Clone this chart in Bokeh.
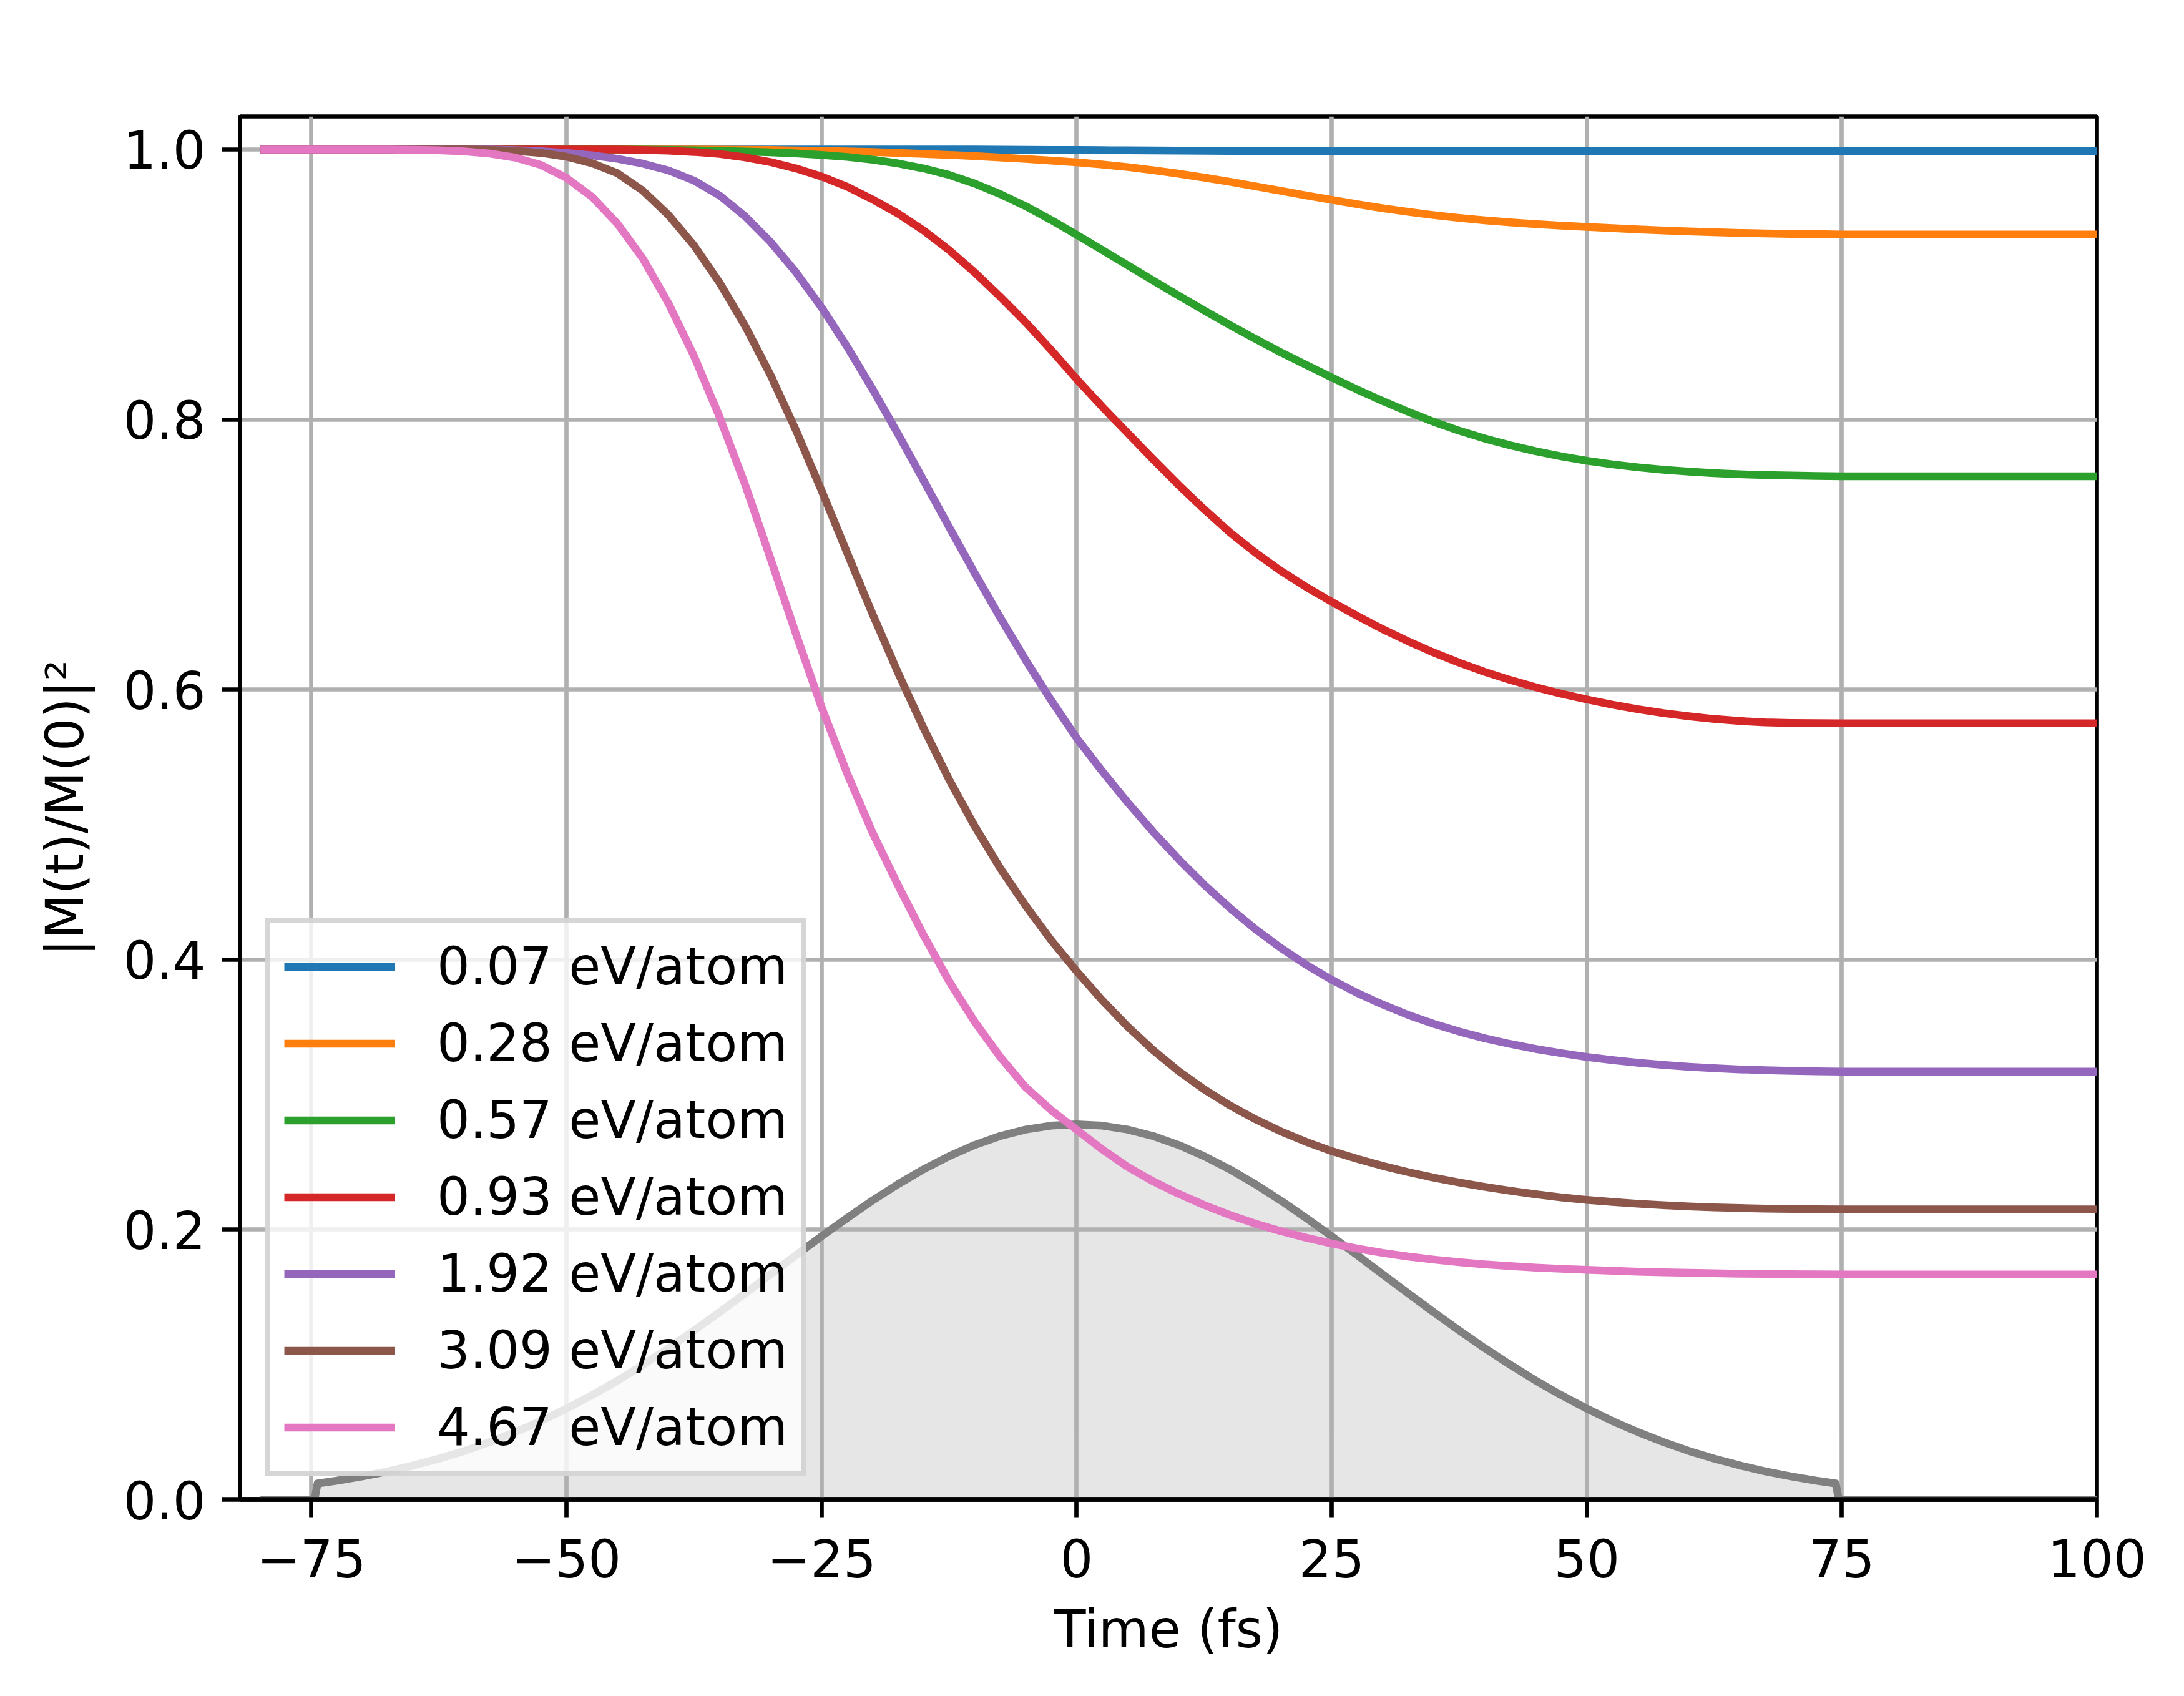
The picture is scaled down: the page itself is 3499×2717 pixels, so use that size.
from bokeh.plotting import figure
from bokeh.models import Range1d, FixedTicker, CustomJSTickFormatter, PrintfTickFormatter
from bokeh.embed import file_html
from bokeh.resources import INLINE

# ---- data ----
time_fs = [-80, -77.5, -75, -72.5, -70, -67.5, -65, -62.5, -60, -57.5, -55, -52.5,
           -50, -47.5, -45, -42.5, -40, -37.5, -35, -32.5, -30, -27.5, -25, -22.5,
           -20, -17.5, -15, -12.5, -10, -7.5, -5, -2.5, 0, 2.5, 5, 7.5, 10, 12.5,
           15, 17.5, 20, 22.5, 25, 27.5, 30, 32.5, 35, 37.5, 40, 42.5, 45, 47.5,
           50, 52.5, 55, 57.5, 60, 62.5, 65, 67.5, 70, 72.5, 75, 77.5, 80, 82.5,
           85, 87.5, 90, 92.5, 95, 97.5, 100]

m_007 = [1.0] * 29 + [0.9999, 0.9998, 0.9997, 0.9996, 0.9995, 0.9994, 0.9993,
                      0.9992, 0.9991] + [0.999] * 35

m_028 = [1.0] * 18 + [0.9999, 0.9998, 0.9996, 0.9993, 0.999, 0.9986, 0.9981, 0.9975,
                      0.9968, 0.996, 0.9951, 0.9941, 0.993, 0.9918, 0.9905,
                      0.9889, 0.987, 0.9847, 0.9821, 0.9792, 0.9761, 0.9728, 0.9694,
                      0.966, 0.9627, 0.9595, 0.9565, 0.9538, 0.9514, 0.9493, 0.9475,
                      0.946, 0.9447, 0.9436, 0.9427, 0.9417, 0.9408, 0.94, 0.9393,
                      0.9387, 0.9382, 0.9378, 0.9375, 0.9373] + [0.937] * 11

m_057 = [1.0] * 15 + [0.9999, 0.9997, 0.9994, 0.999, 0.9985, 0.9979, 0.9971, 0.996,
                      0.9945, 0.9925, 0.9897, 0.986, 0.9812, 0.9748, 0.967, 0.958,
                      0.9478, 0.9368,
                      0.9256, 0.9143, 0.903, 0.8918, 0.8808, 0.8701, 0.8598, 0.8498,
                      0.8404, 0.8312, 0.8222, 0.8137, 0.8057, 0.7983, 0.7917, 0.7859,
                      0.7809, 0.7765, 0.7727, 0.7695, 0.7668, 0.7646, 0.7628, 0.7614,
                      0.7603, 0.7595, 0.7589, 0.7585, 0.7582] + [0.758] * 11

m_093 = [1.0] * 15 + [0.9997, 0.9992, 0.9982, 0.9967, 0.9942, 0.9907, 0.986, 0.980,
                      0.9725, 0.963, 0.9525, 0.940, 0.9255, 0.909, 0.891, 0.872,
                      0.8515, 0.830,
                      0.8095, 0.790, 0.7705, 0.7515, 0.7335, 0.7165, 0.7015, 0.688,
                      0.676, 0.665, 0.6545, 0.6447, 0.6357, 0.6274, 0.6199, 0.6131,
                      0.6071, 0.6017, 0.5969, 0.5927, 0.5888, 0.5855, 0.5826, 0.5802,
                      0.5782, 0.5767, 0.5757, 0.5752, 0.5751] + [0.575] * 11

m_192 = [1.0] * 10 + [0.9995, 0.9987, 0.9975, 0.9957, 0.9931, 0.9895, 0.9845, 0.977,
                      0.966, 0.9505, 0.9315, 0.909, 0.883, 0.854, 0.8225, 0.7892,
                      0.7549, 0.7204, 0.6864, 0.6534, 0.6219, 0.5921, 0.5641,
                      0.5396, 0.5164, 0.4946, 0.4743, 0.4555, 0.4383, 0.4227, 0.4087,
                      0.3962, 0.3851, 0.3753, 0.3667, 0.359, 0.3524, 0.3467, 0.3417,
                      0.3375, 0.3338, 0.3307, 0.3279, 0.3256, 0.3236, 0.322, 0.3206,
                      0.3196, 0.3187, 0.3181, 0.3176, 0.3173] + [0.317] * 11

m_309 = [1.0] * 9 + [0.9997, 0.999, 0.9975, 0.9947, 0.9899, 0.9824, 0.9694, 0.9514,
                     0.9289, 0.9014, 0.8694, 0.8329, 0.7919, 0.7474, 0.7014, 0.6559,
                     0.6124, 0.5714, 0.5334, 0.4989, 0.4679, 0.4399, 0.4144, 0.3914,
                     0.3699, 0.3504, 0.3329, 0.3174, 0.3039, 0.2921, 0.2818, 0.2728,
                     0.265, 0.2582, 0.2524, 0.2472, 0.2426, 0.2385, 0.2349, 0.2317,
                     0.2288, 0.2262, 0.2239, 0.222, 0.2205, 0.2192, 0.2181, 0.2172,
                     0.2165, 0.216, 0.2156, 0.2153, 0.2151] + [0.215] * 11

m_467 = [1.0] * 6 + [0.9998, 0.9994, 0.9986, 0.997, 0.994, 0.9885, 0.979, 0.965,
                     0.945, 0.919, 0.886, 0.847, 0.802, 0.752, 0.697, 0.641,
                     0.587, 0.538, 0.494, 0.455, 0.418, 0.384, 0.354, 0.328,
                     0.3055, 0.2885, 0.274,
                     0.2595, 0.2465, 0.2358, 0.2265, 0.2182, 0.2109, 0.2045, 0.1989,
                     0.194, 0.1897, 0.186, 0.1828, 0.1801, 0.1778, 0.1759, 0.1743,
                     0.173, 0.1719, 0.171, 0.1702, 0.1695, 0.1689, 0.1684, 0.168,
                     0.1677, 0.1674, 0.1672, 0.167, 0.1669] + [0.1668] * 11

series_labels = ["0.07 eV/atom", "0.28 eV/atom", "0.57 eV/atom", "0.93 eV/atom",
                 "1.92 eV/atom", "3.09 eV/atom", "4.67 eV/atom"]
series_values = [m_007, m_028, m_057, m_093, m_192, m_309, m_467]

pulse_t = [-80, -74.7, -74.4, -72.5, -70, -67.5, -65, -62.5, -60, -57.5, -55, -52.5,
           -50, -47.5, -45, -42.5, -40, -37.5, -35, -32.5, -30, -27.5, -25, -22.5,
           -20, -17.5, -15, -12.5, -10, -7.5, -5, -2.5, 0, 2.5, 5, 7.5, 10, 12.5,
           15, 17.5, 20, 22.5, 25, 27.5, 30, 32.5, 35, 37.5, 40, 42.5, 45, 47.5,
           50, 52.5, 55, 57.5, 60, 62.5, 65, 67.5, 70, 72.5, 74.4, 74.7, 100]
pulse_v = [0.0, 0.0, 0.012, 0.0141, 0.0173, 0.0210, 0.0254, 0.0304, 0.0361, 0.0427,
           0.0501, 0.0583, 0.0674, 0.0774, 0.0882, 0.0999, 0.1122, 0.1253, 0.1388,
           0.1528, 0.1669, 0.1811, 0.1951, 0.2086, 0.2216, 0.2337, 0.2447, 0.2544,
           0.2627, 0.2693, 0.2741, 0.2770, 0.2780,
           0.2770, 0.2741, 0.2693, 0.2627, 0.2544, 0.2447, 0.2337, 0.2216, 0.2086,
           0.1951, 0.1811, 0.1669, 0.1528, 0.1388, 0.1253, 0.1122, 0.0999, 0.0882,
           0.0774, 0.0674, 0.0583, 0.0501, 0.0427, 0.0361, 0.0304, 0.0254, 0.0210,
           0.0173, 0.0141, 0.012, 0.0, 0.0]
pulse_base = [0.0] * len(pulse_t)

x_ticks = [-75, -50, -25, 0, 25, 50, 75, 100]
y_ticks = [0.0, 0.2, 0.4, 0.6, 0.8, 1.0]

colors = ["#1f77b4", "#ff7f0e", "#2ca02c", "#d62728", "#9467bd", "#8c564b", "#e377c2"]

for s in series_values:
    assert len(s) == len(time_fs)
assert len(pulse_v) == len(pulse_t)

# ---- figure ----
FONT = "DejaVu Sans"
FS = "83px"
LW = 12.5
THIN = 6.67

p = figure(width=3480, height=2700, title=None,
           x_range=Range1d(-82, 100), y_range=Range1d(0, 1.0245),
           output_backend="svg", toolbar_location=None,
           min_border_left=384, min_border_right=121,
           min_border_top=186, min_border_bottom=298)
p.background_fill_color = "white"
p.border_fill_color = "white"
p.outline_line_color = "black"
p.outline_line_width = THIN

# pulse envelope
p.varea(x=pulse_t, y1=pulse_base, y2=pulse_v, fill_color="gray", fill_alpha=0.2,
        level="image")
p.line(pulse_t, pulse_v, line_color="#808080", line_width=LW, line_join="round")

for vals, lab, col in zip(series_values, series_labels, colors):
    p.line(time_fs, vals, line_color=col, line_width=LW, line_join="round",
           legend_label=lab)

# axes
p.xaxis.ticker = FixedTicker(ticks=x_ticks)
p.yaxis.ticker = FixedTicker(ticks=y_ticks)
p.xaxis.formatter = CustomJSTickFormatter(
    code="return tick < 0 ? '\u2212' + Math.abs(tick) : String(tick);")
p.yaxis.formatter = PrintfTickFormatter(format="%.1f")
p.xaxis.axis_label = "Time (fs)"
p.yaxis.axis_label = "|M(t)/M(0)|\u00b2"
for ax in (p.xaxis[0], p.yaxis[0]):
    ax.axis_line_color = "black"
    ax.axis_line_width = THIN
    ax.major_tick_line_color = "black"
    ax.major_tick_line_width = THIN
    ax.major_tick_out = 29
    ax.major_tick_in = 0
    ax.minor_tick_line_color = None
    ax.major_label_text_font = FONT
    ax.major_label_text_font_size = FS
    ax.major_label_text_color = "black"
    ax.axis_label_text_font = FONT
    ax.axis_label_text_font_size = FS
    ax.axis_label_text_font_style = "normal"
    ax.axis_label_text_color = "black"
p.xaxis[0].major_label_standoff = 33
p.xaxis[0].axis_label_standoff = 32
p.yaxis[0].major_label_standoff = 26
p.yaxis[0].axis_label_standoff = 42

p.grid.grid_line_color = "#b0b0b0"
p.grid.grid_line_width = THIN
p.xgrid.ticker = FixedTicker(ticks=x_ticks)
p.ygrid.ticker = FixedTicker(ticks=y_ticks)

# legend
lg = p.legend[0]
lg.location = (41, 37)
lg.margin = 0
lg.padding = 22
lg.spacing = 26
lg.glyph_width = 178
lg.glyph_height = 83
lg.label_height = 83
lg.label_standoff = 67
lg.label_text_font = FONT
lg.label_text_font_size = FS
lg.label_text_color = "black"
lg.border_line_color = "#cccccc"
lg.border_line_width = 8
lg.border_line_alpha = 0.8
lg.background_fill_color = "white"
lg.background_fill_alpha = 0.8

open("out.html", "w").write(file_html(p, INLINE))
